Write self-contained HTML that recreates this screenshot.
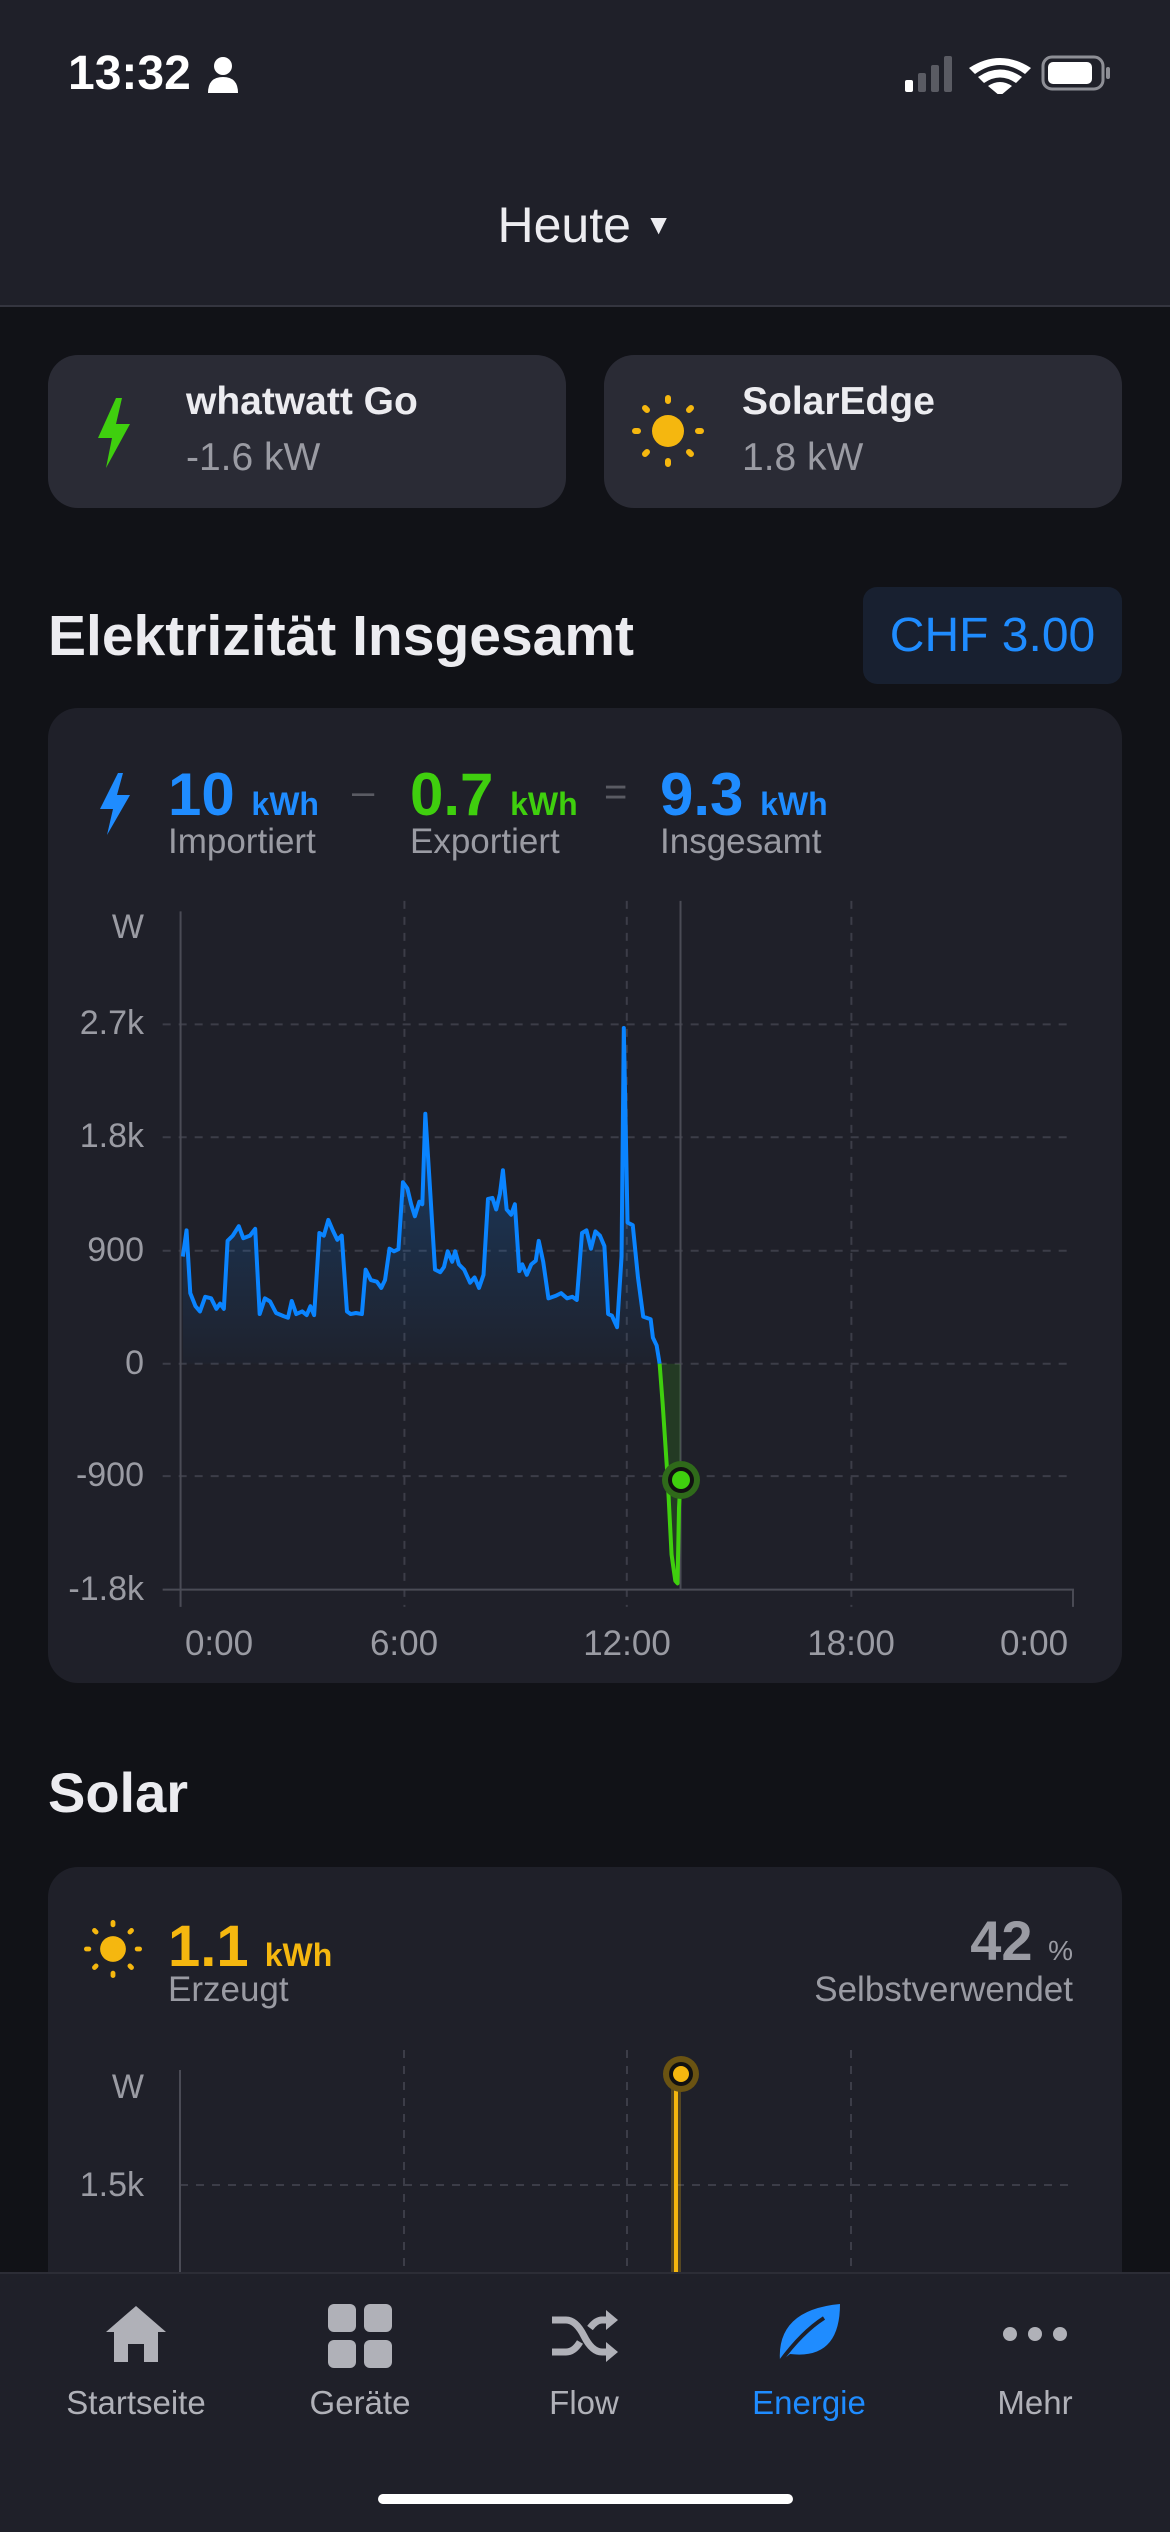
<!DOCTYPE html>
<html><head><meta charset="utf-8"><style>
*{margin:0;padding:0;box-sizing:border-box}
body{width:1170px;height:2532px;background:#111217;font-family:"Liberation Sans",sans-serif;position:relative;overflow:hidden;color:#e6e6ea}
.a{position:absolute}
.hdr{left:0;top:0;width:1170px;height:307px;background:#1f2029;border-bottom:2px solid #34353f}
.dc{background:#2a2b35;border-radius:30px;height:153px;top:355px}
.dt{font-size:39px;font-weight:bold;color:#ececf0}
.dv{font-size:39px;color:#9a9ba3}
.card{background:#1f2029;border-radius:30px}
.yl{font-size:34px;color:#9a9ba3;text-align:right;width:130px;left:14px}
.xl{font-size:35px;color:#9a9ba3;text-align:center;width:140px}
.nav{left:0;top:2272px;width:1170px;height:260px;background:#1f2029;border-top:2px solid #2c2d36}
.nl{font-size:33px;color:#b0b1b8;text-align:center;width:200px;top:2384px}
</style></head><body>
<div class="a hdr"></div>
<div class="a" style="left:68px;top:46px;font-size:48px;font-weight:bold;color:#fff">13:32</div>
<svg class="a" style="left:206px;top:56px" width="34" height="38" viewBox="0 0 34 38"><circle cx="17" cy="10" r="9" fill="#fff"/><path d="M2 37 Q2 21 17 21 Q32 21 32 37Z" fill="#fff"/></svg>
<svg class="a" style="left:905px;top:54px" width="210" height="40" viewBox="0 0 210 40">
<rect x="0" y="26" width="8" height="12" rx="2" fill="#fff"/><rect x="13" y="19" width="8" height="19" rx="2" fill="#5a5b63"/><rect x="26" y="11" width="8" height="27" rx="2" fill="#5a5b63"/><rect x="39" y="2" width="8" height="36" rx="2" fill="#5a5b63"/>
<path d="M64 14 Q95 -6 126 14 L120 20 Q95 2 70 20Z M73 23 Q95 8 117 23 L111 29 Q95 18 79 29Z M83 32 Q95 24 107 32 L95 42Z" fill="#fff"/>
<rect x="138" y="3" width="60" height="32" rx="9" fill="none" stroke="#8e8f96" stroke-width="3"/><rect x="143" y="8" width="44" height="22" rx="5" fill="#fff"/><rect x="201" y="13" width="4" height="12" rx="2" fill="#8e8f96"/>
</svg>
<div class="a" style="left:0;width:1170px;top:196px;text-align:center;font-size:50px;color:#ececf0">Heute <span style="font-size:28px;vertical-align:8px">&#9660;</span></div>

<div class="a dc" style="left:48px;width:518px"></div>
<div class="a dc" style="left:604px;width:518px"></div>
<svg class="a" style="left:94px;top:398px" width="40" height="70" viewBox="0 0 40 70"><path d="M22 0 L4 40 L18 40 L12 70 L36 26 L22 26 L28 0Z" fill="#3fcf0e"/></svg>
<div class="a dt" style="left:186px;top:380px">whatwatt Go</div>
<div class="a dv" style="left:186px;top:436px">-1.6 kW</div>
<svg class="a" style="left:632px;top:395px" width="72" height="72" viewBox="0 0 72 72"><circle cx="36" cy="36" r="16" fill="#f5b70f"/><g stroke="#f5b70f" stroke-width="6" stroke-linecap="round"><path d="M36 3v3M36 66v3M3 36h3M66 36h3M13 13l2 2M57 57l2 2M13 59l2-2M57 15l2-2"/></g></svg>
<div class="a dt" style="left:742px;top:380px">SolarEdge</div>
<div class="a dv" style="left:742px;top:436px">1.8 kW</div>

<div class="a" style="left:48px;top:603px;font-size:57px;font-weight:bold;color:#ececf0">Elektrizität Insgesamt</div>
<div class="a" style="left:863px;top:587px;width:259px;height:97px;background:#182030;border-radius:14px;color:#1f8cff;font-size:48px;text-align:center;line-height:97px">CHF 3.00</div>

<div class="a card" style="left:48px;top:708px;width:1074px;height:975px"></div>
<svg class="a" style="left:98px;top:773px" width="34" height="62" viewBox="0 0 34 62"><path d="M20 0 L2 36 L15 36 L9 62 L32 22 L19 22 L25 0Z" fill="#1f8cff"/></svg>
<div class="a" style="left:168px;top:760px;font-size:60px;font-weight:bold;color:#1f8cff">10 <span style="font-size:32px">kWh</span></div>
<div class="a" style="left:168px;top:822px;font-size:35px;color:#9a9ba3">Importiert</div>
<div class="a" style="left:352px;top:770px;font-size:40px;color:#5a5b63">–</div>
<div class="a" style="left:410px;top:760px;font-size:60px;font-weight:bold;color:#3fcf0e">0.7 <span style="font-size:32px">kWh</span></div>
<div class="a" style="left:410px;top:822px;font-size:35px;color:#9a9ba3">Exportiert</div>
<div class="a" style="left:604px;top:770px;font-size:40px;color:#5a5b63">=</div>
<div class="a" style="left:660px;top:760px;font-size:60px;font-weight:bold;color:#1f8cff">9.3 <span style="font-size:32px">kWh</span></div>
<div class="a" style="left:660px;top:822px;font-size:35px;color:#9a9ba3">Insgesamt</div>

<svg class="a" style="left:0;top:880px" width="1170" height="820" viewBox="0 0 1568 1568" preserveAspectRatio="none">
<defs><linearGradient id="g" x1="0" y1="0" x2="0" y2="1"><stop offset="0" stop-color="#0a84ff" stop-opacity="0.35"/><stop offset="1" stop-color="#0a84ff" stop-opacity="0.02"/></linearGradient></defs>
<g stroke="#3c3d48" stroke-width="2" stroke-dasharray="8 8" fill="none">
<path vector-effect="non-scaling-stroke" d="M218 276H1438M218 492H1438M218 709H1438M218 925H1438M218 1140H1438M542 40V1390M840 40V1390M1141 40V1390"/></g>
<g stroke="#4a4b55" stroke-width="2" fill="none"><path vector-effect="non-scaling-stroke" d="M242 60V1390M218 1357H1438V1390M912 40V1357"/></g>
<path d="M245 925 L245,720 250,670 255,790 262,815 268,825 275,797 283,800 290,820 295,810 300,820 305,690 312,680 320,662 326,685 335,680 342,667 348,830 355,800 362,806 370,828 380,834 386,837 391,805 397,830 405,825 411,832 416,815 421,832 428,675 434,680 440,650 446,670 452,688 458,680 465,825 470,830 477,828 485,830 490,745 497,765 505,768 511,780 516,765 522,705 528,710 534,706 540,578 546,590 551,620 556,643 562,615 566,620 570,447 575,560 583,745 590,750 595,740 600,710 606,730 610,710 615,735 622,745 630,770 636,760 642,780 648,755 654,610 660,608 665,630 670,600 674,555 679,630 685,640 690,620 696,748 700,735 706,755 712,735 718,728 722,690 728,730 735,800 745,795 752,790 760,800 767,797 773,803 780,675 786,670 792,705 798,672 804,680 810,700 815,830 820,833 827,855 833,720 836,283 841,655 848,660 855,760 862,835 872,840 875,875 880,890 884,925Z" fill="url(#g)"/>
<path d="M884 925 L888,1000 895,1150 900,1290 905,1340 910,1200 912,1148 912 925Z" fill="#3fcf0e" fill-opacity="0.15"/>
<path vector-effect="non-scaling-stroke" d="M245,720 250,670 255,790 262,815 268,825 275,797 283,800 290,820 295,810 300,820 305,690 312,680 320,662 326,685 335,680 342,667 348,830 355,800 362,806 370,828 380,834 386,837 391,805 397,830 405,825 411,832 416,815 421,832 428,675 434,680 440,650 446,670 452,688 458,680 465,825 470,830 477,828 485,830 490,745 497,765 505,768 511,780 516,765 522,705 528,710 534,706 540,578 546,590 551,620 556,643 562,615 566,620 570,447 575,560 583,745 590,750 595,740 600,710 606,730 610,710 615,735 622,745 630,770 636,760 642,780 648,755 654,610 660,608 665,630 670,600 674,555 679,630 685,640 690,620 696,748 700,735 706,755 712,735 718,728 722,690 728,730 735,800 745,795 752,790 760,800 767,797 773,803 780,675 786,670 792,705 798,672 804,680 810,700 815,830 820,833 827,855 833,720 836,283 841,655 848,660 855,760 862,835 872,840 875,875 880,890 884,925" fill="none" stroke="#0a84ff" stroke-width="4" stroke-linejoin="round"/>
<path vector-effect="non-scaling-stroke" d="M884,925 888,1000 895,1150 900,1290 905,1340 908,1345 910,1200 912,1148" fill="none" stroke="#3fcf0e" stroke-width="4" stroke-linejoin="round"/>
</svg>
<svg class="a" style="left:661px;top:1460px" width="40" height="40"><circle cx="20" cy="20" r="19" fill="#2f6a1a"/><circle cx="20" cy="20" r="13" fill="#111"/><circle cx="20" cy="20" r="9" fill="#3fcf0e"/></svg>
<div class="a yl" style="top:908px">W</div>
<div class="a yl" style="top:1004px">2.7k</div>
<div class="a yl" style="top:1117px">1.8k</div>
<div class="a yl" style="top:1231px">900</div>
<div class="a yl" style="top:1344px">0</div>
<div class="a yl" style="top:1456px">-900</div>
<div class="a yl" style="top:1570px">-1.8k</div>
<div class="a xl" style="left:149px;top:1624px">0:00</div>
<div class="a xl" style="left:334px;top:1624px">6:00</div>
<div class="a xl" style="left:557px;top:1624px">12:00</div>
<div class="a xl" style="left:781px;top:1624px">18:00</div>
<div class="a xl" style="left:964px;top:1624px">0:00</div>

<div class="a" style="left:48px;top:1760px;font-size:56px;font-weight:bold;color:#ececf0">Solar</div>
<div class="a card" style="left:48px;top:1867px;width:1074px;height:500px"></div>
<svg class="a" style="left:84px;top:1920px" width="58" height="58" viewBox="0 0 72 72"><circle cx="36" cy="36" r="16" fill="#f5b70f"/><g stroke="#f5b70f" stroke-width="6" stroke-linecap="round"><path d="M36 3v3M36 66v3M3 36h3M66 36h3M13 13l2 2M57 57l2 2M13 59l2-2M57 15l2-2"/></g></svg>
<div class="a" style="left:168px;top:1913px;font-size:58px;font-weight:bold;color:#f5b70f">1.1 <span style="font-size:32px">kWh</span></div>
<div class="a" style="left:168px;top:1970px;font-size:35px;color:#9a9ba3">Erzeugt</div>
<div class="a" style="left:800px;top:1908px;width:273px;text-align:right;font-size:56px;font-weight:bold;color:#9a9ba3">42 <span style="font-size:28px;font-weight:normal">%</span></div>
<div class="a" style="left:700px;top:1970px;width:373px;text-align:right;font-size:35px;color:#9a9ba3">Selbstverwendet</div>
<svg class="a" style="left:0;top:2050px" width="1170" height="230">
<path d="M180 135H1073M404 0V230M627 0V230M851 0V230" stroke="#3c3d48" stroke-width="2" stroke-dasharray="8 8"/>
<path d="M180 20V230" stroke="#4a4b55" stroke-width="2"/>
<rect x="671" y="24" width="10" height="210" fill="#f5b70f" fill-opacity="0.25"/>
<path d="M676 24V230" stroke="#f5b70f" stroke-width="4"/>
<circle cx="681" cy="24" r="18" fill="#6a5312"/><circle cx="681" cy="24" r="12" fill="#111"/><circle cx="681" cy="24" r="8" fill="#f5b70f"/>
</svg>
<div class="a yl" style="top:2068px">W</div>
<div class="a yl" style="top:2166px">1.5k</div>

<div class="a nav"></div>
<svg class="a" style="left:104px;top:2304px" width="64" height="60" viewBox="0 0 64 60"><path d="M32 2 L62 28 L54 28 L54 58 L40 58 L40 40 L24 40 L24 58 L10 58 L10 28 L2 28Z" fill="#b0b1b8"/></svg>
<svg class="a" style="left:328px;top:2304px" width="64" height="64" viewBox="0 0 64 64"><rect x="0" y="0" width="28" height="28" rx="6" fill="#b0b1b8"/><rect x="36" y="0" width="28" height="28" rx="6" fill="#b0b1b8"/><rect x="0" y="36" width="28" height="28" rx="6" fill="#b0b1b8"/><rect x="36" y="36" width="28" height="28" rx="6" fill="#b0b1b8"/></svg>
<svg class="a" style="left:550px;top:2306px" width="70" height="60" viewBox="0 0 70 60"><path d="M2 14 H16 Q26 14 34 30 Q42 46 52 46 H60 M2 46 H16 Q24 46 30 36 M40 22 Q46 14 52 14 H60" stroke="#b0b1b8" stroke-width="7" fill="none"/><path d="M56 4 L68 14 L56 24Z M56 36 L68 46 L56 56Z" fill="#b0b1b8"/></svg>
<svg class="a" style="left:774px;top:2300px" width="70" height="66" viewBox="0 0 70 66"><path d="M6 62 Q2 10 66 4 Q66 60 16 54Z" fill="#1f8cff"/><path d="M6 62 Q28 32 50 18" stroke="#1f2029" stroke-width="4" fill="none"/></svg>
<svg class="a" style="left:1002px;top:2326px" width="66" height="16"><circle cx="8" cy="8" r="7" fill="#b0b1b8"/><circle cx="33" cy="8" r="7" fill="#b0b1b8"/><circle cx="58" cy="8" r="7" fill="#b0b1b8"/></svg>
<div class="a nl" style="left:36px">Startseite</div>
<div class="a nl" style="left:260px">Geräte</div>
<div class="a nl" style="left:484px">Flow</div>
<div class="a nl" style="left:709px;color:#1f8cff">Energie</div>
<div class="a nl" style="left:935px">Mehr</div>
<div class="a" style="left:378px;top:2494px;width:415px;height:10px;border-radius:5px;background:#fff"></div>
</body></html>
